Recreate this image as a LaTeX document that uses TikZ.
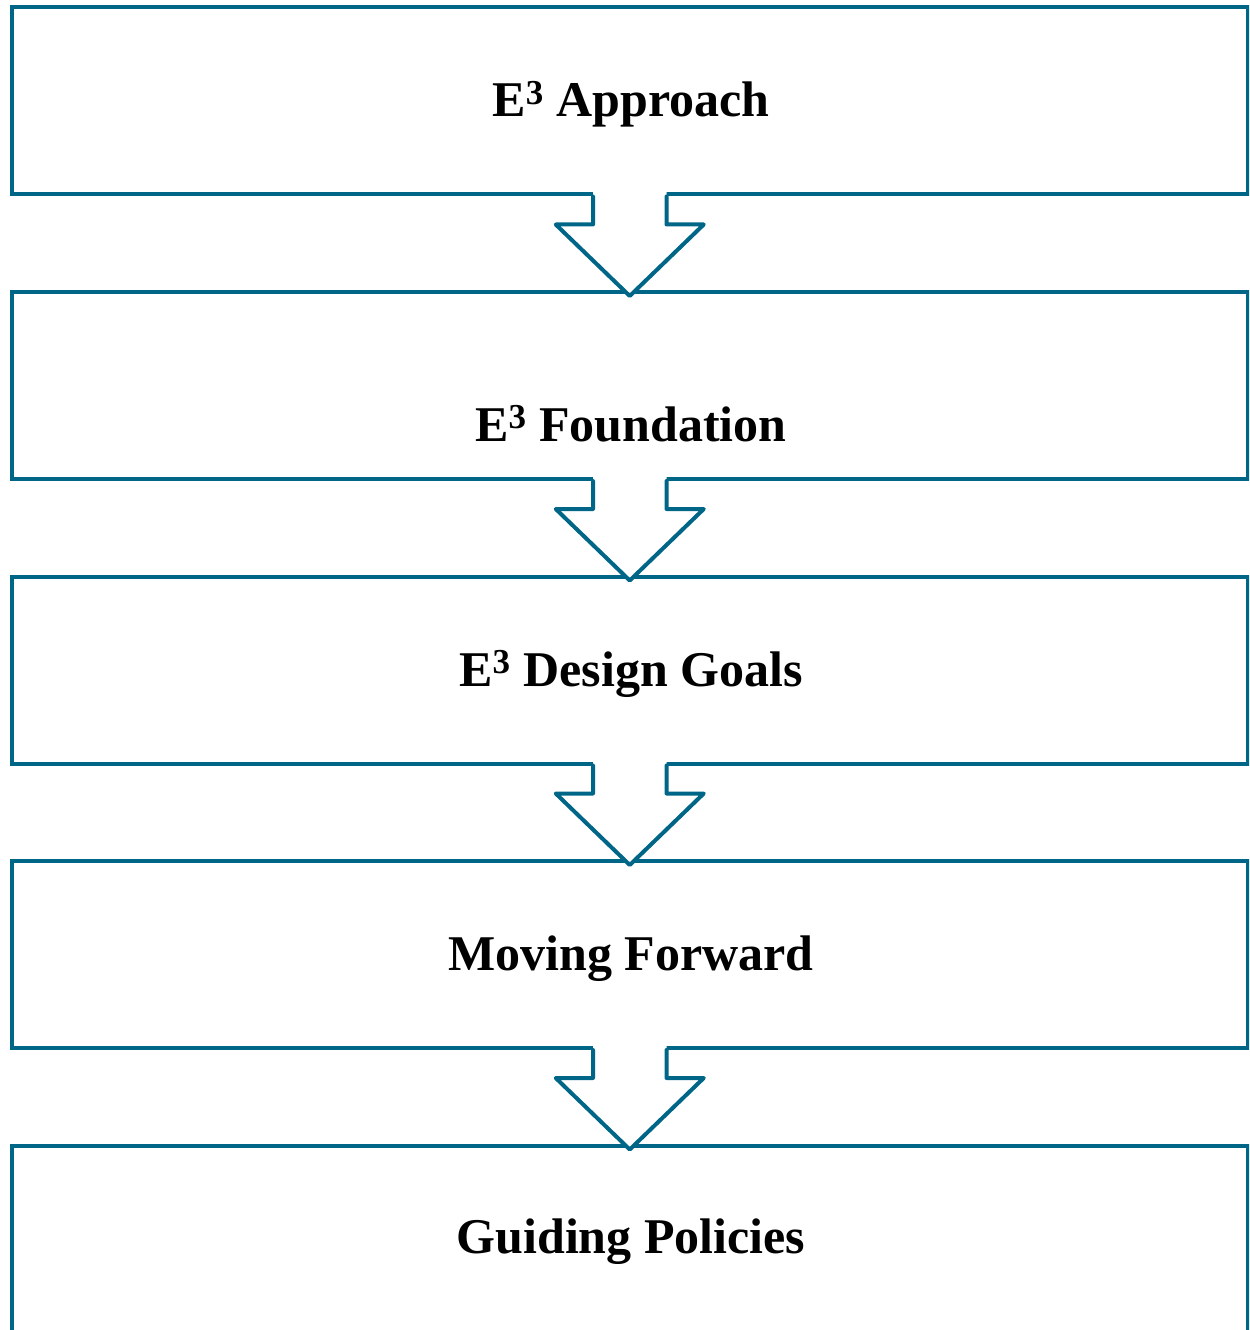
\documentclass[tikz,border=0pt]{standalone}
\usepackage{fontspec}
\setmainfont{Liberation Serif}
\usetikzlibrary{calc}
\definecolor{boxblue}{RGB}{0,102,136}
\tikzset{
  stagebox/.style={draw=boxblue, line width=3pt, fill=white, rectangle,
    minimum width=1235.5*0.75pt, minimum height=187*0.75pt, inner sep=0pt},
  stagetext/.style={font=\fontsize{37.5}{44}\selectfont\bfseries, text=black, inner sep=0pt, anchor=base},
  flowarrow/.style={draw=boxblue, line width=3pt, line join=round, line cap=round},
}
\newcommand{\mkarrow}[2]{%
  \fill[white] ($(#1.south)+(-36.75,-6)$) -- ($(#1.south)+(-36.75,28)$) -- ($(#1.south)+(-74,28)$) -- ($(#1.south)+(0,99.5)$) -- ($(#1.south)+(74,28)$) -- ($(#1.south)+(36.75,28)$) -- ($(#1.south)+(36.75,-6)$) -- cycle;
  \draw[flowarrow] ($(#1.south)+(-36.75,0)$) -- ($(#1.south)+(-36.75,28)$) -- ($(#1.south)+(-74,28)$) -- ($(#1.south)+(0,99.5)$) coordinate (#2) -- ($(#1.south)+(74,28)$) -- ($(#1.south)+(36.75,28)$) -- ($(#1.south)+(36.75,0)$);
}
\begin{document}
\begin{tikzpicture}[x=0.75pt,y=-0.75pt]
\useasboundingbox (0,0) rectangle (1249,1330);
\clip (0,0) rectangle (1249,1330);
\node[stagebox] (b1) at (629.75,101) {};
\node[stagebox] (b2) at (629.75,385.5) {};
\node[stagebox] (b3) at (629.75,670) {};
\node[stagebox] (b4) at (629.75,954.5) {};
\node[stagebox] (b5) at (629.75,1239) {};
\node[stagetext] (t1) at (631,117) {E\textsuperscript{3} Approach};
\node[stagetext] (t2) at (631,441) {E\textsuperscript{3} Foundation};
\node[stagetext] (t3) at (631,686) {E\textsuperscript{3} Design Goals};
\node[stagetext] (t4) at (631,970) {Moving Forward};
\node[stagetext] (t5) at (631,1253) {Guiding Policies};
\mkarrow{b1}{a1}
\mkarrow{b2}{a2}
\mkarrow{b3}{a3}
\mkarrow{b4}{a4}
\end{tikzpicture}
\end{document}
